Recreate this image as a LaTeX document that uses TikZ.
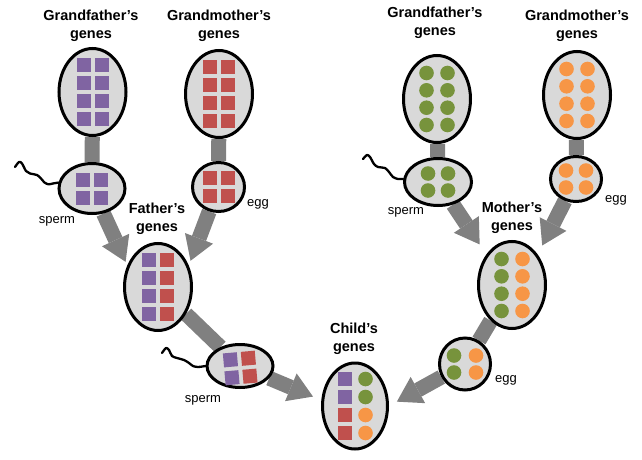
\documentclass[tikz,border=0pt]{standalone}
\usepackage{fontspec}
\setmainfont{Liberation Sans}
\usetikzlibrary{shapes.geometric,arrows.meta,backgrounds}

\definecolor{purp}{HTML}{8064A2}
\definecolor{redc}{HTML}{C0504D}
\definecolor{grn}{HTML}{77933C}
\definecolor{orng}{HTML}{F79646}
\definecolor{cellgray}{HTML}{D9D9D9}
\definecolor{bargray}{HTML}{808080}

\tikzset{
  cell/.style={ellipse, draw, line width=3pt, fill=cellgray, inner sep=0pt},
  parent/.style={cell, minimum width=67pt, minimum height=87pt},
  title/.style={font=\bfseries\fontsize{14.5}{17.5}\selectfont, align=center},
  tag/.style={font=\fontsize{13}{15}\selectfont},
  bar/.style={draw=bargray, line width=15pt},
  flow/.style={bar, -{Triangle[width=30pt,length=24pt,line width=0pt]}},
  tail/.style={draw=black, line width=2.3pt, line join=round, line cap=round},
}

% one column of genes inside a cell: node, x offset, y offsets, colour
\newcommand{\sqcol}[4]{%
  \foreach \y in {#3}
    \fill[#4] ([shift={(#2-7,\y-7)}]#1.center) rectangle +(14,14);}
\newcommand{\dotcol}[4]{%
  \foreach \y in {#3}
    \fill[#4] ([shift={(#2,\y)}]#1.center) circle[radius=7.3pt];}

\begin{document}
\begin{tikzpicture}[x=1pt,y=-1pt]
  \useasboundingbox (0,0) rectangle (642,460);

  % father's side
  \node[parent] (gfA) at (92.5,92) {};
  \node[parent] (gmA) at (219,94) {};
  \node[cell, minimum width=66pt, minimum height=50pt] (spA) at (92,188.5) {};
  \node[cell, minimum width=52pt, minimum height=49pt] (egA) at (218.5,187) {};
  \node[parent] (fa) at (158,287) {};
  \node[cell, minimum width=66pt, minimum height=43pt] (spB) at (240,366) {};

  % mother's side
  \node[parent] (gfB) at (437,99) {};
  \node[parent] (gmB) at (577,95) {};
  \node[cell, minimum width=67pt, minimum height=47pt] (spC) at (438,182) {};
  \node[cell, minimum width=51pt, minimum height=45pt] (egB) at (576,179) {};
  \node[parent] (mo) at (512,285) {};
  \node[cell, minimum width=51pt, minimum height=52pt] (egC) at (465,364) {};

  % child
  \node[cell, minimum width=65pt, minimum height=86pt] (ch) at (355,406) {};

  % genes
  \sqcol{gfA}{-9}{-27,-9,9,27}{purp} \sqcol{gfA}{9}{-27,-9,9,27}{purp}
  \sqcol{gmA}{-9}{-27,-9,9,27}{redc} \sqcol{gmA}{9}{-27,-9,9,27}{redc}
  \sqcol{spA}{-9}{-9,9}{purp} \sqcol{spA}{9}{-9,9}{purp}
  \sqcol{egA}{-9}{-9,9}{redc} \sqcol{egA}{9}{-9,9}{redc}
  \sqcol{fa}{-9}{-27,-9,9,27}{purp} \sqcol{fa}{9}{-27,-9,9,27}{redc}
  \begin{scope}[shift={(spB.center)}, rotate=5]
    \fill[purp] (-16,-14) rectangle +(14,14);
    \fill[purp] (-16,4) rectangle +(14,14);
    \fill[redc] (2,-14) rectangle +(14,14);
    \fill[redc] (2,4) rectangle +(14,14);
  \end{scope}
  \dotcol{gfB}{-10.5}{-26,-8.7,8.7,26}{grn} \dotcol{gfB}{10.5}{-26,-8.7,8.7,26}{grn}
  \dotcol{gmB}{-10.5}{-26,-8.7,8.7,26}{orng} \dotcol{gmB}{10.5}{-26,-8.7,8.7,26}{orng}
  \dotcol{spC}{-10}{-8.5,8.5}{grn} \dotcol{spC}{10}{-8.5,8.5}{grn}
  \dotcol{egB}{-10}{-8.5,8.5}{orng} \dotcol{egB}{10}{-8.5,8.5}{orng}
  \dotcol{mo}{-10.5}{-26,-8.7,8.7,26}{grn} \dotcol{mo}{10.5}{-26,-8.7,8.7,26}{orng}
  \dotcol{egC}{-11}{-8.5,8.5}{grn} \dotcol{egC}{11}{-8.5,8.5}{orng}
  \sqcol{ch}{-10.5}{-27,-9}{purp} \sqcol{ch}{-10.5}{9,27}{redc}
  \dotcol{ch}{10.5}{-27,-9}{grn} \dotcol{ch}{10.5}{9,27}{orng}

  % labels
  \node[title] (gfAt) at (91,26) {Grandfather’s\\genes};
  \node[title] (gmAt) at (219,26) {Grandmother’s\\genes};
  \node[title] (fat) at (157,219) {Father’s\\genes};
  \node[title] (gfBt) at (435,23) {Grandfather’s\\genes};
  \node[title] (gmBt) at (577,26) {Grandmother’s\\genes};
  \node[title] (mot) at (512,218) {Mother’s\\genes};
  \node[title] (cht) at (354,339) {Child’s\\genes};
  \node[tag] (spAt) at (57,221) {sperm};
  \node[tag] (egAt) at (258,204) {egg};
  \node[tag] (spBt) at (203,400) {sperm};
  \node[tag] (spCt) at (406,212) {sperm};
  \node[tag] (egBt) at (616,200) {egg};
  \node[tag] (egCt) at (506,380) {egg};

  % tails
  \draw[tail] plot[smooth, tension=0.5] coordinates {(15,167) (19,162) (22,163.5) (26,171) (30,173.5) (37,175) (41,178.5) (44.5,182.5) (48.5,184.3) (53,183.5) (spA.170)};
  \draw[tail] plot[smooth, tension=0.5] coordinates {(162,353) (166,348) (169,350) (172,356) (177,358) (184,360) (189,363) (193,366) (198,367) (spB.west)};
  \draw[tail] plot[smooth, tension=0.5] coordinates {(363,159) (367,155) (370,157) (374,164) (378,167) (385,168) (389,172) (393,177) (398,179) (spC.175)};

  \begin{scope}[on background layer]
    \draw[bar] (gfA) -- (spA);
    \draw[bar] (gmA) -- (egA);
    \draw[bar] (fa) -- (spB);
    \draw[bar] (gfB) -- (spC);
    \draw[bar] (gmB) -- (egB);
    \draw[bar] (mo) -- (egC);
    \draw[flow, shorten >=4pt] (spA) -- (fa.145);
    \draw[flow, shorten >=5pt] (egA) -- (fa.35);
    \draw[flow, shorten >=12pt] (spC) -- (mo.130);
    \draw[flow, shorten >=10pt] (egB) -- (mo.50);
    \draw[flow, shorten >=9pt] (spB) -- (ch.170);
    \draw[flow, shorten >=9pt] (egC) -- (ch.0);
  \end{scope}
\end{tikzpicture}
\end{document}
